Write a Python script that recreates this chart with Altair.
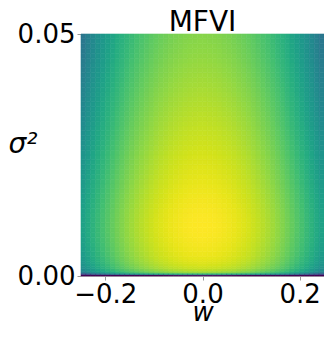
import altair as alt
import pandas as pd

# w cell centres (step 0.01) and colour level along w at the brightest row (sigma^2 ~ 0.01)
w_centers = [-0.245, -0.235, -0.225, -0.215, -0.205, -0.195, -0.185, -0.175, -0.165, -0.155,
             -0.145, -0.135, -0.125, -0.115, -0.105, -0.095, -0.085, -0.075, -0.065, -0.055,
             -0.045, -0.035, -0.025, -0.015, -0.005, 0.005, 0.015, 0.025, 0.035, 0.045,
             0.055, 0.065, 0.075, 0.085, 0.095, 0.105, 0.115, 0.125, 0.135, 0.145,
             0.155, 0.165, 0.175, 0.185, 0.195, 0.205, 0.215, 0.225, 0.235, 0.245]
w_level = [0.575, 0.61, 0.645, 0.678, 0.708, 0.737, 0.764, 0.79, 0.815, 0.838,
           0.859, 0.878, 0.895, 0.911, 0.926, 0.94, 0.952, 0.962, 0.972, 0.98,
           0.986, 0.992, 0.996, 0.998, 1.0, 1.0, 0.998, 0.996, 0.992, 0.986,
           0.98, 0.972, 0.962, 0.952, 0.94, 0.926, 0.911, 0.895, 0.878, 0.859,
           0.838, 0.815, 0.79, 0.764, 0.737, 0.708, 0.678, 0.645, 0.61, 0.575]

# sigma^2 bin edges and colour level along the centre column (w = 0)
s_edges = [0.0, 0.0003, 0.0006, 0.001, 0.0015, 0.002, 0.0025, 0.003, 0.0035, 0.004,
           0.005, 0.006, 0.007, 0.008, 0.009, 0.010, 0.011, 0.012, 0.013, 0.014,
           0.015, 0.016, 0.017, 0.018, 0.019, 0.020, 0.021, 0.022, 0.023, 0.024,
           0.025, 0.026, 0.027, 0.028, 0.029, 0.030, 0.031, 0.032, 0.033, 0.034,
           0.035, 0.036, 0.037, 0.038, 0.039, 0.040, 0.041, 0.042, 0.043, 0.044,
           0.045, 0.046, 0.047, 0.048, 0.049, 0.050]
s_level = [0.05, 0.65, 0.85, 0.90, 0.925, 0.94, 0.95, 0.96, 0.967,
           0.975, 0.982, 0.988, 0.993, 0.997, 0.999, 1.0, 0.999, 0.997, 0.994,
           0.99, 0.986, 0.982, 0.977, 0.972, 0.967, 0.962, 0.957, 0.952, 0.947,
           0.942, 0.937, 0.932, 0.927, 0.922, 0.917, 0.912, 0.907, 0.902, 0.897,
           0.892, 0.887, 0.882, 0.877, 0.872, 0.867, 0.862, 0.857, 0.852, 0.847,
           0.842, 0.837, 0.833, 0.829, 0.825, 0.821]

title_text = ["MFVI"]
x_ticks = [-0.2, 0.0, 0.2]
y_ticks = [0.0, 0.05]

rows = []
for i, wc in enumerate(w_centers):
    for j in range(len(s_level)):
        rows.append({"w0": wc - 0.005, "w1": wc + 0.005, "s0": s_edges[j], "s1": s_edges[j + 1],
                     "v": w_level[i] + s_level[j] - 1.0})
df = pd.DataFrame(rows)

W, H = 243, 242
cscale = alt.Scale(scheme="viridis", domain=[0, 1], clamp=True)

heat = alt.Chart(df).mark_rect(strokeWidth=0.6).encode(
    x=alt.X("w0:Q", scale=alt.Scale(domain=[-0.25, 0.25], nice=False, zero=False),
            axis=alt.Axis(values=x_ticks, format=".1f", title="w", titleFontStyle="italic",
                          titleFontSize=26, titleFont="DejaVu Sans", titleFontWeight="normal",
                          titleBaseline="alphabetic", titleY=44, titleColor="black",
                          labelFontSize=26, labelFont="DejaVu Sans", labelColor="black",
                          labelPadding=1, tickSize=4, tickColor="#999999",
                          domainColor="#bbbbbb", grid=False, labelFlush=False)),
    x2="w1:Q",
    y=alt.Y("s0:Q", scale=alt.Scale(domain=[0, 0.05], nice=False, zero=False),
            axis=alt.Axis(values=y_ticks, format=".2f", title="σ²", titleAngle=0,
                          titleAlign="left", titleBaseline="middle", titleX=-73, titleY=110,
                          titleFontStyle="italic", titleFontSize=28, titleFont="DejaVu Sans",
                          titleFontWeight="normal", titleColor="black",
                          labelFontSize=26, labelFont="DejaVu Sans", labelColor="black",
                          labelPadding=2, tickSize=4, tickColor="#999999",
                          domainColor="#bbbbbb", grid=False, labelFlush=False)),
    y2="s1:Q",
    color=alt.Color("v:Q", scale=cscale, legend=None),
    stroke=alt.Stroke("v:Q", scale=cscale, legend=None),
)

title = alt.Chart(pd.DataFrame({"t": title_text})).mark_text(
    font="DejaVu Sans", fontSize=28, color="black", align="center", baseline="alphabetic"
).encode(text="t:N", x=alt.value(W / 2), y=alt.value(-3))

chart = alt.layer(heat, title).properties(
    width=W, height=H,
    autosize=alt.AutoSizeParams(type="none"),
    padding={"left": 73, "top": 26, "right": 0, "bottom": 48},
).configure_view(stroke="#cccccc")

chart.save("out.html", embed_options={"renderer": "svg", "actions": False})
